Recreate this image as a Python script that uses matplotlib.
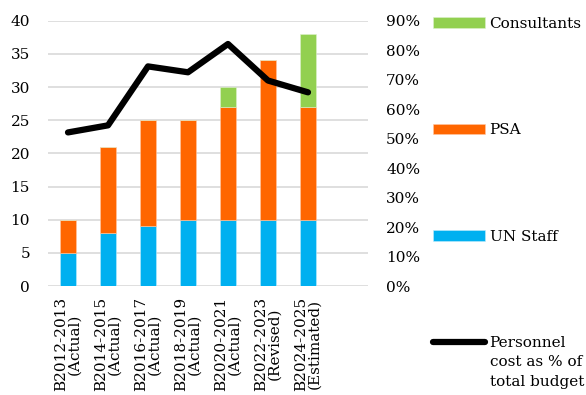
import numpy as np
import matplotlib.pyplot as plt
from matplotlib.ticker import PercentFormatter

# dados
periodos = ["B2012-2013\n(Actual)", "B2014-2015\n(Actual)", "B2016-2017\n(Actual)",
            "B2018-2019\n(Actual)", "B2020-2021\n(Actual)", "B2022-2023\n(Revised)",
            "B2024-2025\n(Estimated)"]
un_staff = [5, 8, 9, 10, 10, 10, 10]
psa = [5, 13, 16, 15, 17, 24, 17]
consultores = [0, 0, 0, 0, 3, 0, 11]
pessoal_pct = [52.1, 54.5, 74.5, 72.5, 82.1, 69.7, 65.7]

plt.rcParams['font.family'] = ['DejaVu Serif']
plt.rcParams['font.size'] = 11

fig = plt.figure(figsize=(5.86, 3.95), dpi=100)
ax = fig.add_axes([48/586, 1-286/395, 320/586, (286-20.7)/395])

x = np.arange(len(periodos))
larg = 0.4
b1 = ax.bar(x, un_staff, larg, color='#00B0F0', edgecolor='#BFEBFB', linewidth=0.4, zorder=2)
b2 = ax.bar(x, psa, larg, bottom=un_staff, color='#FF6600', edgecolor='#FFC7A3', linewidth=0.4, zorder=2)
base3 = np.array(un_staff) + np.array(psa)
b3 = ax.bar(x, consultores, larg, bottom=base3, color='#92D050', edgecolor='#DDF0CC', linewidth=0.4, zorder=2)

ax.set_xlim(-0.5, 7.5)
ax.set_ylim(0, 40)
ax.set_yticks(range(0, 41, 5))
ax.grid(axis='y', color='#D9D9D9', linewidth=1.2, zorder=0)
ax.set_axisbelow(True)
for s in ax.spines.values():
    s.set_visible(False)
ax.set_xticks(x)
ax.set_xticklabels(periodos, rotation=90, ha='center', va='top', multialignment='center',
                   linespacing=0.95)
ax.tick_params(axis='x', length=0, pad=8)
ax.tick_params(axis='y', length=0, pad=13)

ax2 = ax.twinx()
linha, = ax2.plot(x, pessoal_pct, color='black', linewidth=4.5,
                  solid_capstyle='round', solid_joinstyle='round')
ax2.set_ylim(0, 90)
ax2.set_yticks(range(0, 91, 10))
ax2.yaxis.set_major_formatter(PercentFormatter(decimals=0))
ax2.tick_params(axis='y', length=0, pad=13)
for s in ax2.spines.values():
    s.set_visible(False)

leg = fig.legend([b3, b2, b1, linha],
                 ["Consultants", "PSA", "UN Staff", "Personnel"],
                 loc='upper left', bbox_to_anchor=(433/586, 1-17/395), frameon=False,
                 handlelength=3.4, handletextpad=0.3, labelspacing=6.05,
                 borderpad=0, borderaxespad=0)

# resto do rótulo da linha, logo abaixo de "Personnel"
fig.canvas.draw()
bb = leg.get_texts()[-1].get_window_extent().transformed(fig.transFigure.inverted())
fig.text(bb.x0, bb.y0 - 5/395, "cost as % of\ntotal budget", ha='left', va='top',
         linespacing=1.55)

fig.savefig("out.png", dpi=100)
